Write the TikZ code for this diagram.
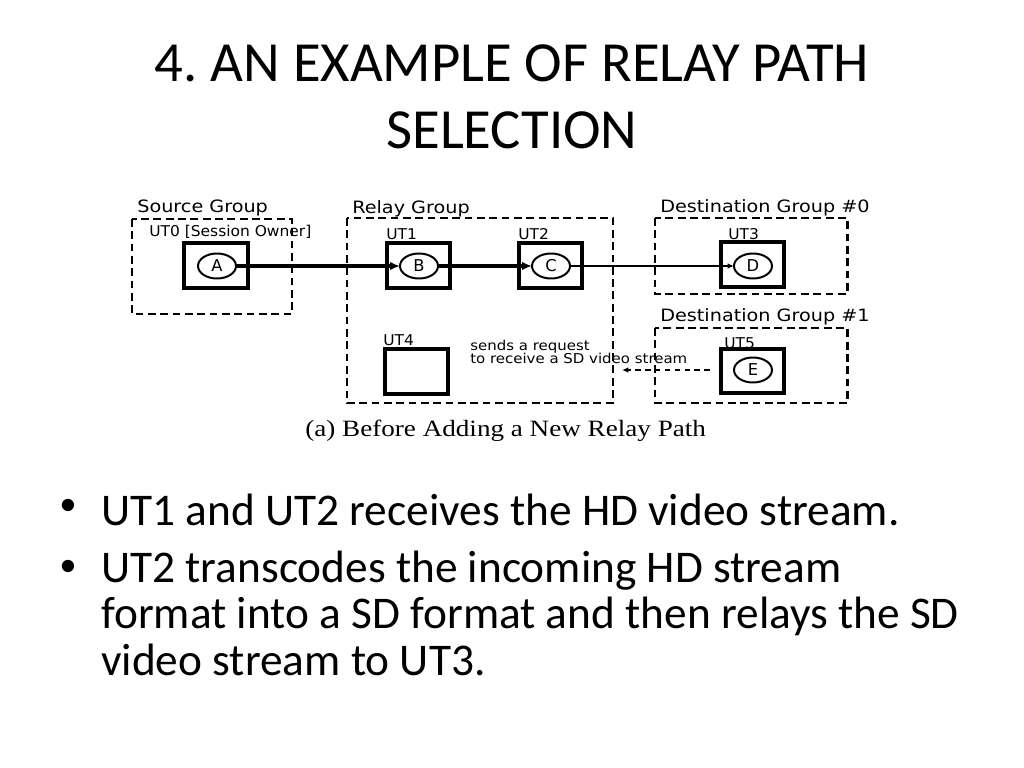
\documentclass[tikz,border=0pt]{standalone}
\usepackage{fontspec}
\setmainfont{Carlito}
\newfontfamily\dfont{DejaVu Sans}
\newfontfamily\cfont{Liberation Serif}
\newfontfamily\bfont{Liberation Sans}
\usetikzlibrary{arrows.meta}
\begin{document}
\begin{tikzpicture}[x=0.70576pt,y=-0.70576pt,
  grp/.style={draw,line width=2.1pt,dash pattern=on 5.5pt off 3.2pt},
  utbox/.style={draw,line width=2.2pt},
  ellb/.style={line width=1.4pt},
  lbl/.style={anchor=west,inner sep=0pt,font=\dfont\fontsize{10.5}{12}\selectfont,xscale=1.04},
  glbl/.style={anchor=west,inner sep=0pt,font=\dfont\fontsize{12}{14}\selectfont,xscale=1.13},
  hdarr/.style={line width=2.2pt,-{Latex[length=7pt,width=6pt]}},
  sdarr/.style={line width=0.9pt,-{Latex[length=4.5pt,width=4pt]}},
  bul/.style={anchor=west,inner sep=0pt,font=\fontsize{32}{38}\selectfont},
  bdot/.style={anchor=west,inner sep=0pt,font=\bfont\fontsize{32}{38}\selectfont},
  ttl/.style={inner sep=0pt,font=\fontsize{40}{48}\selectfont},
]
\useasboundingbox (0,0) rectangle (1024,768);
% title
\node[ttl] (t1) at (512,63) {\frenchspacing 4. AN EXAMPLE OF RELAY PATH};
\node[ttl] (t2) at (512,130) {SELECTION};

% groups
\draw[grp] (132,219) rectangle (292,314);
\node[glbl] (gs) at (137,208) {Source Group};
\draw[grp] (347,218) rectangle (613,403);
\node[glbl] (gr) at (352,209) {Relay Group};
\draw[grp] (655,218) rectangle (847,294);
\node[glbl] (gd0) at (660,208) {Destination Group \#0};
\draw[grp] (655,328) rectangle (847,403);
\node[glbl] (gd1) at (660,317) {Destination Group \#1};

% boxes
\draw[utbox] (184,243) rectangle (248,288);
\draw[utbox] (387,243) rectangle (450,288);
\draw[utbox] (519,243) rectangle (582,288);
\draw[utbox] (385,349) rectangle (448,394);
\draw[utbox] (721,242) rectangle (784,287);
\draw[utbox] (721,349) rectangle (784,393);

\node[lbl] (l0) at (149,232) {UT0 [Session Owner]};
\node[lbl] (l1) at (386,234) {UT1};
\node[lbl] (l2) at (518,234) {UT2};
\node[lbl] (l4) at (383,340) {UT4};
\node[lbl] (l3) at (728,234) {UT3};
\node[lbl] (l5) at (724,343) {UT5};

% ellipses
\begin{scope}[every node/.style={font=\dfont\fontsize{11.5}{12}\selectfont}]
\draw[ellb] (217,266) ellipse (19 and 12.5); \node (A) at (217,266) {A};
\draw[ellb] (419,266) ellipse (19 and 12.5); \node (B) at (419,266) {B};
\draw[ellb] (551,266) ellipse (19 and 12.5); \node (C) at (551,266) {C};
\draw[ellb] (753,266) ellipse (19 and 12.5); \node (D) at (753,266) {D};
\draw[ellb] (753,370) ellipse (19 and 12.5); \node (E) at (753,370) {E};
\end{scope}
\coordinate (Ar) at (236,266);
\coordinate (Bl) at (400,266);
\coordinate (Br) at (438,266);
\coordinate (Cl) at (532,266);
\coordinate (Cr) at (570,266);
\coordinate (Dl) at (734,266);
\coordinate (Eo) at (710,370);
\coordinate (Et) at (622,370);
\draw[hdarr] (Ar) -- (Bl);
\draw[hdarr] (Br) -- (Cl);
\draw[sdarr] (Cr) -- (Dl);
\draw[sdarr,dash pattern=on 4pt off 3pt] (Eo) -- (Et);

\node[anchor=north west,align=left,inner sep=0pt,font=\dfont\fontsize{9.6}{9.4}\selectfont,xscale=1.1] (req) at (470,340) {sends a request\\to receive a SD video stream};

\node[anchor=west,inner sep=0pt,font=\cfont\fontsize{16.5}{18}\selectfont,xscale=1.16] (cap) at (305,431) {(a) Before Adding a New Relay Path};

% bullets
\node[bdot] (b1) at (60,510) {•};
\node[bul] (x1) at (101,510) {UT1 and UT2 receives the HD video stream.};
\node[bdot] (b2) at (60,571) {•};
\node[bul] (x2) at (101,571) {UT2 transcodes the incoming HD stream};
\node[bul] (x3) at (101,616) {format into a SD format and then relays the SD};
\node[bul] (x4) at (101,660) {video stream to UT3.};
\end{tikzpicture}
\end{document}
